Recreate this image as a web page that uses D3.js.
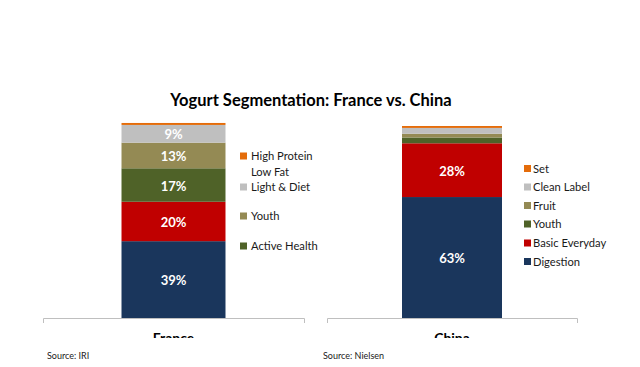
<!DOCTYPE html>
<html>
<head>
<meta charset="utf-8">
<script src="https://cdn.jsdelivr.net/npm/d3@7"></script>
<style>
  body { margin: 0; background: #fff; }
  svg { display: block; font-family: Lato, "Open Sans", sans-serif; }
</style>
</head>
<body>
<svg class="chart"></svg>
<script>
const W = 640;
const H = 367;

// Segment shares, bottom of stack to top
var franceValues = [39, 20, 17, 13, 9, 1];
var chinaValues = [63, 28, 3, 2, 3, 1];
// Segment colours, bottom to top
var segColors = ["#1a365c", "#c00000", "#4f6228", "#948a54", "#bfbfbf", "#e46c0a"];

// Legends (top to bottom) and the segment each one points at
var franceLegend = ["High Protein|Low Fat", "Light & Diet", "Youth", "Active Health"];
var franceLegendSeg = [5, 4, 3, 2];
var chinaLegend = ["Set", "Clean Label", "Fruit", "Youth", "Basic Everyday", "Digestion"];
var chinaLegendSeg = [5, 4, 3, 2, 1, 0];

var svg = d3.select(".chart")
    .attr("width", W)
    .attr("height", H);

svg.append("defs").append("clipPath")
    .attr("id", "cut")
  .append("rect")
    .attr("x", 0).attr("y", 0)
    .attr("width", W).attr("height", 338);

// Title
svg.append("text")
    .attr("x", 311)
    .attr("y", 106)
    .attr("text-anchor", "middle")
    .style("font-size", "16.5px")
    .style("font-weight", "bold")
    .style("fill", "#000")
    .text("Yogurt Segmentation: France vs. China");

function panel(opt) {
    var x = d3.scaleBand()
        .domain([opt.name])
        .range(opt.xRange)
        .paddingInner(0)
        .paddingOuter(opt.pad);
    var y = d3.scaleLinear()
        .domain([0, 100])
        .range([318, opt.top]);

    var g = svg.append("g").attr("clip-path", "url(#cut)");

    // stack the values
    var stack = [];
    var acc = 0;
    opt.values.forEach(function(v, i) {
        stack.push({ v: v, y0: acc, y1: acc + v, i: i });
        acc += v;
    });

    g.selectAll("rect.seg")
        .data(stack)
        .enter().append("rect")
        .attr("class", "seg")
        .attr("x", x(opt.name))
        .attr("width", x.bandwidth())
        .attr("y", d => y(d.y1))
        .attr("height", d => y(d.y0) - y(d.y1))
        .attr("fill", d => segColors[d.i]);

    g.selectAll("text.val")
        .data(stack.filter(d => d.v >= 5))
        .enter().append("text")
        .attr("class", "val")
        .attr("x", x(opt.name) + x.bandwidth() / 2)
        .attr("y", d => (y(d.y0) + y(d.y1)) / 2 + 1)
        .attr("dy", "0.36em")
        .attr("text-anchor", "middle")
        .style("fill", "#fff")
        .style("font-size", "13px")
        .style("font-weight", "bold")
        .text(d => d.v + "%");

    // X-axis
    var ax = g.append("g")
        .attr("transform", "translate(0,318)")
        .call(d3.axisBottom(x).tickSizeInner(0).tickSizeOuter(5).tickPadding(15));
    ax.select(".domain").attr("stroke", "#bfbfbf");
    ax.selectAll("text")
        .style("font-family", "Lato, sans-serif")
        .style("font-size", "14px")
        .style("font-weight", "bold")
        .style("fill", "#000");

    // Legend
    var lg = svg.append("g");
    var items = lg.selectAll("g")
        .data(opt.legend)
        .enter().append("g")
        .attr("transform", (d, i) => "translate(" + opt.lx + "," + opt.ly[i] + ")");
    items.append("rect")
        .attr("x", 0).attr("y", -3.5)
        .attr("width", 7).attr("height", 7)
        .attr("fill", (d, i) => segColors[opt.legendSeg[i]]);
    items.each(function(d) {
        var lines = d.split("|");
        var t = d3.select(this).append("text")
            .attr("x", opt.tx)
            .style("font-size", "11.2px")
            .style("fill", "#1a1a1a");
        lines.forEach(function(s, k) {
            t.append("tspan")
                .attr("x", opt.tx)
                .attr("y", k * 15.5)
                .attr("dy", "0.36em")
                .text(s);
        });
    });

    svg.append("text")
        .attr("x", opt.srcX)
        .attr("y", 356)
        .attr("dy", "0.35em")
        .style("font-size", "9px")
        .style("fill", "#1a1a1a")
        .text(opt.source);
}

panel({
    name: "France", values: franceValues, xRange: [43, 304], pad: 0.755, top: 121,
    legend: franceLegend, legendSeg: franceLegendSeg,
    lx: 240, tx: 11, ly: [156, 187, 216, 246],
    source: "Source: IRI", srcX: 47
});

panel({
    name: "China", values: chinaValues, xRange: [327, 577], pad: 0.75, top: 126,
    legend: chinaLegend, legendSeg: chinaLegendSeg,
    lx: 524, tx: 9, ly: [168.5, 187, 205.5, 224, 243, 261.5],
    source: "Source: Nielsen", srcX: 323
});
</script>
</body>
</html>
